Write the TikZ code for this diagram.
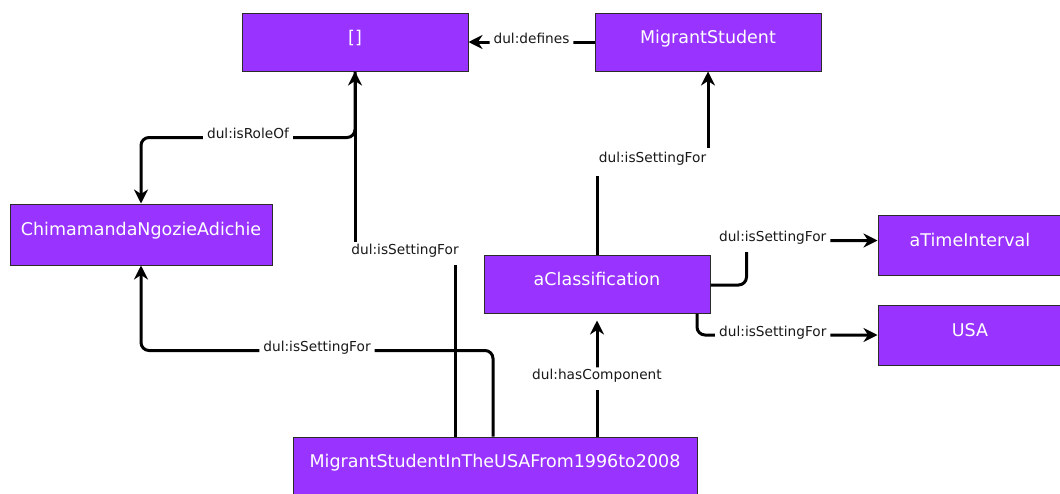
\documentclass[tikz,border=0pt]{standalone}
\usepackage{fontspec}
\setmainfont{DejaVu Sans}
\usetikzlibrary{arrows.meta}
\definecolor{boxfill}{HTML}{9933FF}
\definecolor{boxline}{HTML}{2B2B2B}

\begin{document}
\begin{tikzpicture}[x=1pt,y=-1pt,
  entity/.style={draw=boxline, line width=1pt, fill=boxfill, text=white,
    font=\fontsize{17.5}{20}\selectfont, minimum height=58pt, inner sep=0pt,
    text height=7pt, text depth=5pt},
  rel/.style={draw=black, line width=3pt, line join=round, rounded corners=8pt,
    -{Stealth[length=14pt,width=14pt,inset=4.5pt]}},
  lbl/.style={fill=white, text=black!90, font=\fontsize{13.7}{16}\selectfont,
    inner xsep=4pt, inner ysep=4pt, text height=8.5pt, text depth=6pt}
]
\useasboundingbox (0,0) rectangle (1060,493);

% entities
\node[entity, minimum width=226pt] (role) at (355,42) {[]};
\node[entity, minimum width=226pt] (ms) at (708,42) {MigrantStudent};
\node[entity, minimum width=262pt, minimum height=61pt] (cna) at (141,234.5) {ChimamandaNgozieAdichie};
\node[entity, minimum width=226pt] (cls) at (597,284) {aClassification};
\node[entity, minimum width=184pt, minimum height=60pt] (ti) at (970,245.5) {aTimeInterval};
\node[entity, minimum width=184pt, minimum height=60pt] (usa) at (970,335.5) {USA};
\node[entity, minimum width=404pt] (sit) at (495,466) {MigrantStudentInTheUSAFrom1996to2008};

% relations
\draw[rel] (ms.west) -- node[lbl] {dul:defines} (role.east);

\draw[rel, sharp corners] ([xshift=-40pt]sit.north) -- ++(0,-183)
  -| node[lbl, pos=0.25] {dul:isSettingFor} (role.south);

\draw[rel] (role.south) -- ++(0,66)
  -| node[lbl, pos=0.25] {dul:isRoleOf} (cna.north);

\draw[rel] ([xshift=-2pt]sit.north) -- ++(0,-86)
  -| node[lbl, pos=0.25] {dul:isSettingFor} (cna.south);

\draw[rel] ([xshift=102pt]sit.north) -- node[lbl] {dul:hasComponent} ([yshift=-7pt]cls.south);

\draw[rel, sharp corners] (cls.north) -- ++(0,-93)
  -| node[lbl, pos=0.25, inner ysep=6.75pt] {dul:isSettingFor} (ms.south);

\draw[rel] ([yshift=-1pt]cls.east) -- ++(36,0)
  |- node[lbl, pos=0.6] {dul:isSettingFor} ([yshift=5pt]ti.west);

\draw[rel] ([xshift=100pt]cls.south)
  |- node[lbl, pos=0.71] {dul:isSettingFor} ([yshift=0.5pt]usa.west);
\end{tikzpicture}
\end{document}
